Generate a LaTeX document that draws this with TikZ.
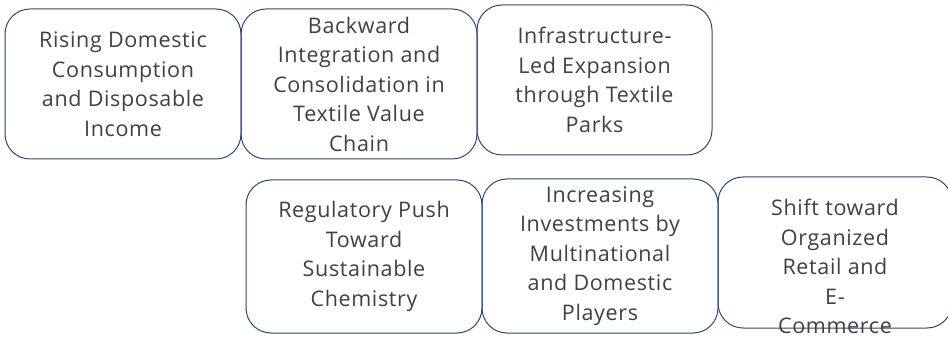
\documentclass[tikz,border=0pt]{standalone}
\usepackage{fontspec}
\setmainfont{Open Sans}[LetterSpace=3]
\definecolor{boxline}{HTML}{2E4670}
\definecolor{textgrey}{HTML}{404040}
\begin{document}
\begin{tikzpicture}[x=1pt,y=-1pt,
  box/.style={draw=boxline, line width=1pt, rounded corners=25pt,
    inner sep=0pt, align=center, text=textgrey,
    font=\fontsize{21.5}{29.5}\selectfont},
  label text/.style={inner sep=0pt, align=center, text=textgrey,
    font=\fontsize{21.5}{29.5}\selectfont}]
\useasboundingbox (0,0) rectangle (948,339);

% top row
\node[box, minimum width=236pt, minimum height=150pt] (b1) at (123,84)
  {Rising Domestic\\Consumption\\and Disposable\\Income};
\node[box, minimum width=236pt, minimum height=150pt] (b2) at (359,84)
  {Backward\\Integration and\\Consolidation in\\Textile Value\\Chain};
\node[box, minimum width=235pt, minimum height=150pt] (b3) at (594.5,80)
  {Infrastructure-\\Led Expansion\\through Textile\\Parks};

% bottom row
\node[box, minimum width=236pt, minimum height=153pt] (b4) at (364,256.5)
  {Regulatory Push\\Toward\\Sustainable\\Chemistry};
\node[box, minimum width=236pt, minimum height=154pt] (b5) at (600,256)
  {Increasing\\Investments by\\Multinational\\and Domestic\\Players};
\node[box, minimum width=234pt, minimum height=151pt] (b6) at (835,252.5) {};
\node[label text] (b6t) at ([yshift=-14pt]b6.center)
  {Shift toward\\Organized\\Retail and\\E-\\Commerce};
\end{tikzpicture}
\end{document}
